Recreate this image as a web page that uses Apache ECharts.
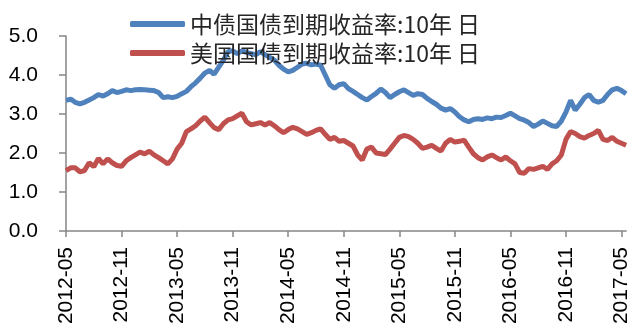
<!DOCTYPE html>
<html>
<head>
<meta charset="utf-8">
<script src="https://cdn.jsdelivr.net/npm/echarts@6/dist/echarts.min.js"></script>
<style>
  html, body { margin: 0; padding: 0; background: #fff; }
  #chart { width: 632px; height: 328px; }
</style>
</head>
<body>
<div id="chart"></div>
<script>
// half-month sample dates, 2012-05 .. 2017-05
const categories = []
for (let i = 0; i < 61; i++) {
  const y = 2012 + Math.floor((4 + i) / 12)
  const m = ((4 + i) % 12) + 1
  const mm = (m < 10 ? '0' : '') + m
  categories.push(y + '-' + mm + '-01', y + '-' + mm + '-16')
}

const seriesNames = ['中债国债到期收益率:10年 日', '美国国债到期收益率:10年 日']

// 中债国债 10Y
const cnYield = [
  3.35, 3.38, 3.30, 3.26, 3.30, 3.36, 3.42, 3.50, 3.46, 3.52,
  3.60, 3.55, 3.58, 3.62, 3.60, 3.62, 3.63, 3.62, 3.61, 3.60,
  3.55, 3.42, 3.44, 3.42, 3.45, 3.52, 3.58, 3.70, 3.80, 3.92,
  4.05, 4.12, 4.02, 4.20, 4.38, 4.60, 4.62, 4.55, 4.62, 4.58,
  4.55, 4.52, 4.60, 4.52, 4.45, 4.38, 4.25, 4.15, 4.08, 4.12,
  4.20, 4.28, 4.30, 4.26, 4.28, 4.25, 4.00, 3.75, 3.66, 3.75,
  3.78, 3.65, 3.58, 3.50, 3.42, 3.36, 3.45, 3.53, 3.64, 3.55,
  3.42, 3.50, 3.57, 3.62, 3.55, 3.48, 3.52, 3.50, 3.40, 3.32,
  3.25, 3.15, 3.10, 3.14, 3.05, 2.93, 2.85, 2.80, 2.86, 2.88,
  2.86, 2.90, 2.88, 2.92, 2.91, 2.96, 3.02, 2.95, 2.88, 2.84,
  2.78, 2.68, 2.74, 2.82, 2.76, 2.70, 2.68, 2.82, 3.05, 3.35,
  3.10, 3.25, 3.42, 3.50, 3.35, 3.30, 3.35, 3.50, 3.62, 3.66,
  3.60, 3.52
]

// 美国国债 10Y
const usYield = [
  1.55, 1.62, 1.62, 1.52, 1.55, 1.75, 1.65, 1.86, 1.72, 1.85,
  1.75, 1.68, 1.66, 1.80, 1.88, 1.95, 2.02, 1.98, 2.05, 1.95,
  1.88, 1.80, 1.72, 1.85, 2.10, 2.25, 2.55, 2.62, 2.70, 2.82,
  2.92, 2.78, 2.65, 2.60, 2.75, 2.85, 2.88, 2.95, 3.02, 2.80,
  2.72, 2.75, 2.78, 2.72, 2.78, 2.70, 2.60, 2.52, 2.60, 2.66,
  2.62, 2.55, 2.48, 2.52, 2.58, 2.62, 2.48, 2.35, 2.40, 2.30,
  2.32, 2.25, 2.18, 1.95, 1.82, 2.10, 2.15, 2.00, 1.98, 1.96,
  2.10, 2.25, 2.40, 2.45, 2.42, 2.35, 2.25, 2.12, 2.15, 2.20,
  2.12, 2.05, 2.25, 2.35, 2.28, 2.30, 2.33, 2.15, 1.98, 1.88,
  1.82, 1.90, 1.95, 1.88, 1.82, 1.90, 1.80, 1.72, 1.50, 1.48,
  1.60, 1.58, 1.62, 1.66, 1.58, 1.72, 1.80, 1.95, 2.35, 2.55,
  2.50, 2.42, 2.38, 2.45, 2.50, 2.58, 2.35, 2.32, 2.40, 2.30,
  2.25, 2.20
]

const colors = ['#4F81BD', '#C0504D']

const chart = echarts.init(document.getElementById('chart'))

chart.setOption({
  backgroundColor: '#ffffff',
  animation: false,

  grid: {
    left: 66,
    right: 2,
    top: 36,
    bottom: 97
  },

  legend: {
    orient: 'vertical',
    left: 125,
    top: 6,
    icon: 'roundRect',
    itemWidth: 55,
    itemHeight: 6,
    itemGap: 3,
    textStyle: {
      fontFamily: 'Noto Sans CJK SC',
      fontSize: 23,
      lineHeight: 26,
      color: '#262626'
    },
    data: seriesNames
  },

  xAxis: {
    type: 'category',
    data: categories,
    boundaryGap: false,
    axisLine: {
      lineStyle: { color: '#868686', width: 1.5 }
    },
    axisTick: {
      show: true,
      interval: 11,
      length: 6,
      lineStyle: { color: '#868686', width: 1.5 }
    },
    axisLabel: {
      interval: 11,
      rotate: 90,
      margin: 16,
      color: '#000',
      fontFamily: 'Liberation Sans',
      fontSize: 21,
      formatter: v => v.slice(0, 7)
    },
    splitLine: { show: false }
  },

  yAxis: {
    type: 'value',
    min: 0,
    max: 5,
    interval: 1,
    axisLine: {
      show: true,
      lineStyle: { color: '#868686', width: 1.5 }
    },
    axisTick: {
      show: true,
      length: 7,
      lineStyle: { color: '#868686', width: 1.5 }
    },
    axisLabel: {
      color: '#000',
      fontFamily: 'Liberation Sans',
      fontSize: 21,
      margin: 28,
      formatter: v => v.toFixed(1)
    },
    splitLine: { show: false }
  },

  series: [
    {
      name: seriesNames[0],
      type: 'line',
      showSymbol: false,
      smooth: false,
      color: colors[0],
      lineStyle: { width: 5, color: colors[0] },
      data: cnYield
    },
    {
      name: seriesNames[1],
      type: 'line',
      showSymbol: false,
      smooth: false,
      color: colors[1],
      lineStyle: { width: 5, color: colors[1] },
      data: usYield
    }
  ]
})
</script>
</body>
</html>
